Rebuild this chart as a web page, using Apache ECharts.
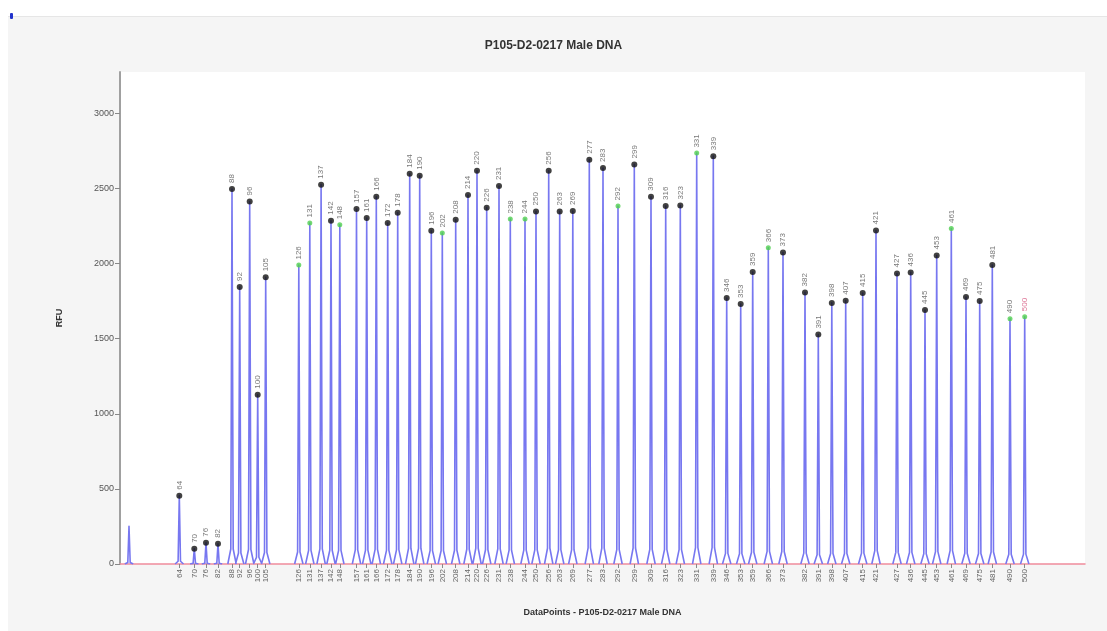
<!DOCTYPE html>
<html>
<head>
<meta charset="utf-8">
<script src="https://cdn.jsdelivr.net/npm/echarts@6.0.0/dist/echarts.min.js"></script>
<style>
  html, body { margin: 0; padding: 0; background: #fff; }
  #frame { position: absolute; left: 8px; top: 16px; right: 0; bottom: 0;
           background: #f5f5f5; border-top: 1px solid #e6e6e6; }
  #mark { position: absolute; left: 10px; top: 13px; width: 3px; height: 6px;
          background: #2233cc; border-radius: 1px; }
  #chart { position: absolute; left: 0; top: 0; width: 1107px; height: 631px; }
</style>
</head>
<body>
<div id="frame"></div>
<div id="mark"></div>
<div id="chart"></div>
<script>
// peak positions (data points), fragment sizes and heights (RFU)
const peakPoints = [90, 593, 743, 860, 980, 1120, 1197, 1297, 1377, 1457,
  1788, 1898, 2011, 2110, 2198, 2365, 2467, 2563, 2677, 2777,
  2897, 2997, 3113, 3223, 3357, 3480, 3570, 3667, 3790, 3903,
  4050, 4160, 4287, 4397, 4528, 4693, 4830, 4980, 5143, 5310,
  5457, 5603, 5767, 5933, 6067, 6207, 6327, 6483, 6630, 6850,
  6983, 7118, 7257, 7427, 7560, 7770, 7907, 8050, 8167, 8313,
  8460, 8597, 8723, 8900, 9047];
const peakSizes = ['', '64', '70', '76', '82', '88', '92', '96', '100', '105',
  '126', '131', '137', '142', '148', '157', '161', '166', '172', '178',
  '184', '190', '196', '202', '208', '214', '220', '226', '231', '238',
  '244', '250', '256', '263', '269', '277', '283', '292', '299', '309',
  '316', '323', '331', '339', '346', '353', '359', '366', '373', '382',
  '391', '398', '407', '415', '421', '427', '436', '445', '453', '461',
  '469', '475', '481', '490', '500'];
const peakRFU = [251, 455, 101, 141, 134, 2496, 1844, 2413, 1127, 1908,
  1990, 2270, 2525, 2285, 2258, 2363, 2303, 2445, 2270, 2338,
  2598, 2584, 2218, 2203, 2292, 2456, 2618, 2372, 2516, 2296,
  2296, 2347, 2618, 2347, 2350, 2691, 2636, 2383, 2660, 2445,
  2383, 2387, 2735, 2715, 1771, 1731, 1944, 2105, 2074, 1808,
  1527, 1738, 1753, 1804, 2220, 1934, 1941, 1691, 2054, 2233,
  1777, 1751, 1990, 1633, 1646];
// sizes called by the ladder fit (green markers)
const fittedSizes = ['126', '131', '148', '202', '238', '244', '292', '331', '366', '461', '490', '500'];
const yTicks = [0, 500, 1000, 1500, 2000, 2500, 3000];

// spike outline: base foot, shoulder, apex
const foot = 42;
const shoulder = 12;
const shoulderRatio = 0.04;

// trace: one spike per peak, broken between peaks
const trace = [];
peakPoints.forEach((x, i) => {
  const h = peakRFU[i];
  trace.push(
    [x - foot, 0], [x - shoulder, h * shoulderRatio], [x, h],
    [x + shoulder, h * shoulderRatio], [x + foot, 0], [x + foot + 1, '-']
  );
});

const labelled = [];
peakPoints.forEach((x, i) => {
  if (peakSizes[i] === '') return;
  const fitted = fittedSizes.includes(peakSizes[i]);
  labelled.push({
    value: [x, peakRFU[i]],
    name: peakSizes[i],
    symbolSize: fitted ? 5 : 6,
    itemStyle: { color: fitted ? '#4fcf4f' : '#111' },
    label: { color: peakSizes[i] === '500' ? '#d4507a' : '#555' }
  });
});

const tickPoints = peakPoints.filter((_, i) => peakSizes[i] !== '');
const sizeAt = {};
peakPoints.forEach((x, i) => { sizeAt[x] = peakSizes[i]; });

const chart = echarts.init(document.getElementById('chart'));
chart.setOption({
  animation: false,
  title: {
    text: 'P105-D2-0217 Male DNA',
    left: 'center',
    top: 35,
    textStyle: { fontSize: 12, fontWeight: 'bold', color: '#333', fontFamily: 'Liberation Sans' }
  },
  grid: {
    left: 120, right: 22, top: 72, bottom: 67,
    show: true, backgroundColor: '#fff', borderWidth: 0
  },
  xAxis: {
    type: 'value',
    min: 0,
    max: 9650,
    name: 'DataPoints - P105-D2-0217 Male DNA',
    nameLocation: 'middle',
    nameGap: 44,
    nameTextStyle: { fontSize: 9, fontWeight: 'bold', color: '#333', fontFamily: 'Liberation Sans' },
    splitLine: { show: false },
    axisLine: { lineStyle: { color: '#f08c9c', width: 1.5 } },
    axisTick: { customValues: tickPoints, length: 4, lineStyle: { color: '#888' } },
    axisLabel: {
      customValues: tickPoints,
      rotate: 90,
      fontSize: 8,
      color: '#666',
      margin: 5,
      formatter: v => sizeAt[v] || ''
    }
  },
  yAxis: {
    type: 'value',
    min: 0,
    max: 3275,
    name: 'RFU',
    nameLocation: 'middle',
    nameGap: 56,
    nameRotate: 90,
    nameTextStyle: { fontSize: 9, fontWeight: 'bold', color: '#333', fontFamily: 'Liberation Sans' },
    splitLine: { show: false },
    axisLine: { show: true, lineStyle: { color: '#a0a0a0', width: 2 } },
    axisTick: { show: true, customValues: yTicks, length: 5, lineStyle: { color: '#888' } },
    axisLabel: { customValues: yTicks, fontSize: 9, color: '#555', margin: 6, formatter: v => String(v) }
  },
  series: [
    {
      type: 'line',
      data: trace,
      showSymbol: false,
      connectNulls: false,
      lineStyle: { color: '#7777f0', width: 1.6, join: 'round' },
      z: 2
    },
    {
      type: 'scatter',
      data: labelled,
      z: 3,
      label: {
        show: true,
        position: 'top',
        rotate: 90,
        align: 'left',
        verticalAlign: 'middle',
        distance: 3,
        fontSize: 8,
        formatter: p => p.name
      }
    }
  ]
});
</script>
</body>
</html>
